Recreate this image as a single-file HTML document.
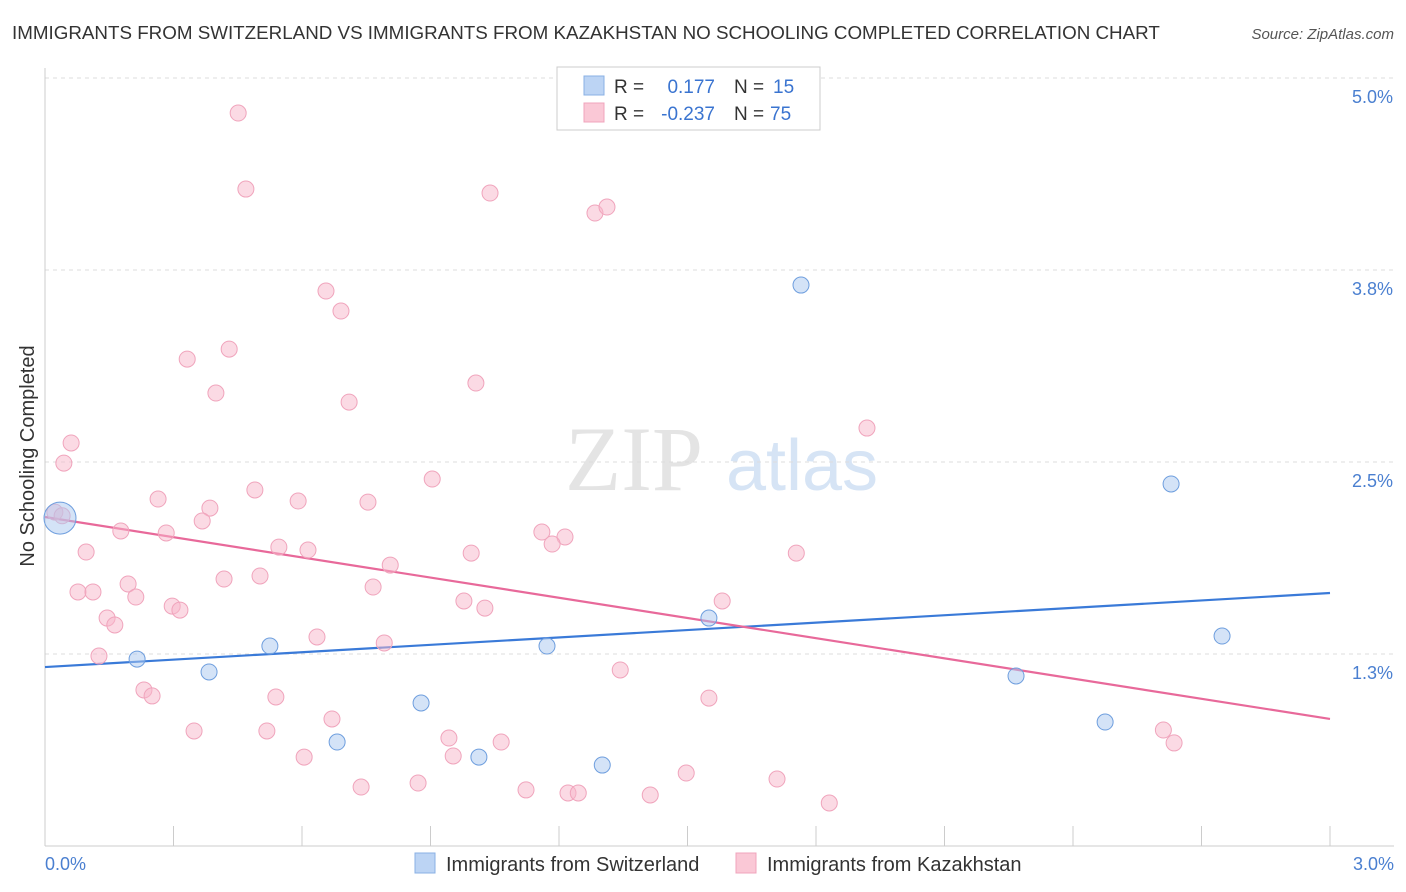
<!DOCTYPE html>
<html><head><meta charset="utf-8">
<style>
body{margin:0;background:#fff;font-family:"Liberation Sans",sans-serif;}
</style></head>
<body>
<svg id="chart" width="1406" height="892" xmlns="http://www.w3.org/2000/svg" style="display:block">
<text x="12" y="39" font-size="18.8" fill="#333">IMMIGRANTS FROM SWITZERLAND VS IMMIGRANTS FROM KAZAKHSTAN NO SCHOOLING COMPLETED CORRELATION CHART</text>
<text x="1394" y="39" font-size="15" fill="#555" font-style="italic" text-anchor="end">Source: ZipAtlas.com</text>
<g>
<text x="634" y="490" font-size="92" fill="#e4e4e4" font-family="Liberation Serif,serif" text-anchor="middle">ZIP</text>
<text x="802" y="490" font-size="72" fill="#d6e4f5" text-anchor="middle">atlas</text>
</g>
<g id="grid"></g><g id="axes"></g><g id="lines"></g><g id="pts"></g>
<g>
<rect x="557" y="67" width="263" height="63" fill="#fff" stroke="#ccc"/>
<rect x="584" y="76" width="20" height="19" fill="#bcd4f4" stroke="#8ab0e4"/>
<rect x="584" y="103" width="20" height="19" fill="#fac8d6" stroke="#f0a4bc"/>
<text x="614" y="93" font-size="19" fill="#333">R =</text>
<text x="715" y="93" font-size="19" fill="#3a74d0" text-anchor="end">0.177</text>
<text x="734" y="93" font-size="19" fill="#333">N =</text>
<text x="773" y="93" font-size="19" fill="#3a74d0">15</text>
<text x="614" y="120" font-size="19" fill="#333">R =</text>
<text x="715" y="120" font-size="19" fill="#3a74d0" text-anchor="end">-0.237</text>
<text x="734" y="120" font-size="19" fill="#333">N =</text>
<text x="770" y="120" font-size="19" fill="#3a74d0">75</text>
</g>
<text transform="translate(34,456) rotate(-90)" font-size="20" fill="#333" text-anchor="middle">No Schooling Completed</text>
<text x="45" y="870" font-size="18" fill="#4a7fd0">0.0%</text>
<text x="1394" y="870" font-size="18" fill="#4a7fd0" text-anchor="end">3.0%</text>
<g>
<rect x="415" y="853" width="20" height="20" fill="#bcd4f4" stroke="#8ab0e4"/>
<text x="446" y="871" font-size="20" fill="#333">Immigrants from Switzerland</text>
<rect x="736" y="853" width="20" height="20" fill="#fac8d6" stroke="#f0a4bc"/>
<text x="767" y="871" font-size="20" fill="#333">Immigrants from Kazakhstan</text>
</g>
</svg>
<script>
const yTicks=[1.25,2.5,3.75,5.0];
const yTickLabels=["1.3%","2.5%","3.8%","5.0%"];
const xTicks=[0,0.3,0.6,0.9,1.2,1.5,1.8,2.1,2.4,2.7,3.0];
const swissX=[0.035,0.215,0.383,0.525,0.682,0.878,1.013,1.172,1.301,1.550,1.765,2.267,2.475,2.629,2.748];
const swissY=[2.135,1.217,1.133,1.302,0.677,0.931,0.579,1.302,0.527,1.484,3.652,1.107,0.807,2.357,1.367];
const kazX=[0.451,0.469,1.039,1.284,1.312,0.656,0.691,0.332,0.430,0.399,1.006,0.710,1.919,0.061,0.044,0.904,0.490,0.264,0.591,0.754,0.385,0.023,0.367,0.177,0.283,1.160,1.214,1.184,0.546,0.614,0.096,0.995,1.754,0.806,0.502,0.418,0.194,0.766,0.077,0.112,0.212,1.581,0.978,0.297,0.315,1.027,0.145,0.163,0.635,0.792,0.126,1.343,0.231,0.250,0.539,1.550,0.670,0.348,0.518,2.611,2.636,0.943,1.065,0.605,0.953,1.497,1.709,0.871,0.738,1.123,1.221,1.245,1.413,1.831,0.040];
const kazY=[4.772,4.277,4.251,4.121,4.160,3.613,3.483,3.170,3.235,2.949,3.014,2.890,2.721,2.624,2.493,2.389,2.318,2.259,2.246,2.239,2.200,2.174,2.116,2.051,2.038,2.044,2.012,1.966,1.946,1.927,1.914,1.907,1.907,1.829,1.758,1.738,1.706,1.686,1.654,1.654,1.621,1.595,1.595,1.562,1.536,1.549,1.484,1.439,1.361,1.322,1.237,1.146,1.016,0.977,0.970,0.963,0.827,0.749,0.749,0.755,0.671,0.703,0.677,0.579,0.586,0.475,0.436,0.410,0.384,0.365,0.345,0.345,0.332,0.280,2.150];
const swissTrend=[1.165,1.647];
const kazTrend=[2.142,0.827];
const NS="http://www.w3.org/2000/svg";
const X=v=>45+v/3*1285, Y=v=>846-v*153.6;
function mk(tag,attrs,parent){const e=document.createElementNS(NS,tag);for(const k in attrs)e.setAttribute(k,attrs[k]);document.getElementById(parent).appendChild(e);return e;}
yTicks.forEach((t,i)=>{
 const g=mk('line',{x1:45,x2:1394,y1:Y(t),y2:Y(t),stroke:'#ddd','stroke-dasharray':'4,4'},'grid');
 
 
 const l=mk('text',{x:1393,y:Y(t)+25,'font-size':18,fill:'#4a7fd0','text-anchor':'end'},'axes');
 l.textContent=yTickLabels[i];
 
 
});
const ax=mk('line',{x1:45,x2:1394,y1:846,y2:846,stroke:'#ccc'},'axes');


const ay=mk('line',{x1:45,x2:45,y1:68,y2:846,stroke:'#ccc'},'axes');


xTicks.forEach(t=>{
 const e=mk('line',{x1:X(t),x2:X(t),y1:826,y2:846,stroke:'#ccc'},'axes');
 
 
});
const bl=mk('line',{x1:X(0),x2:X(3),y1:Y(swissTrend[0]),y2:Y(swissTrend[1]),stroke:'#3a7ad8','stroke-width':2.2},'lines');


const pl=mk('line',{x1:X(0),x2:X(3),y1:Y(kazTrend[0]),y2:Y(kazTrend[1]),stroke:'#e8699a','stroke-width':2.2},'lines');


kazX.forEach((x,i)=>{
 const c=mk('circle',{cx:X(x),cy:Y(kazY[i]),r:8,fill:'rgba(248,182,202,0.5)',stroke:'#f0a4bc','stroke-width':1},'pts');
 
 
});
swissX.forEach((x,i)=>{
 const c=mk('circle',{cx:X(x),cy:Y(swissY[i]),r:i==0?16:8,fill:'rgba(170,200,240,0.5)',stroke:'#6e9ede','stroke-width':1},'pts');
 
 
});
</script>
</body></html>
